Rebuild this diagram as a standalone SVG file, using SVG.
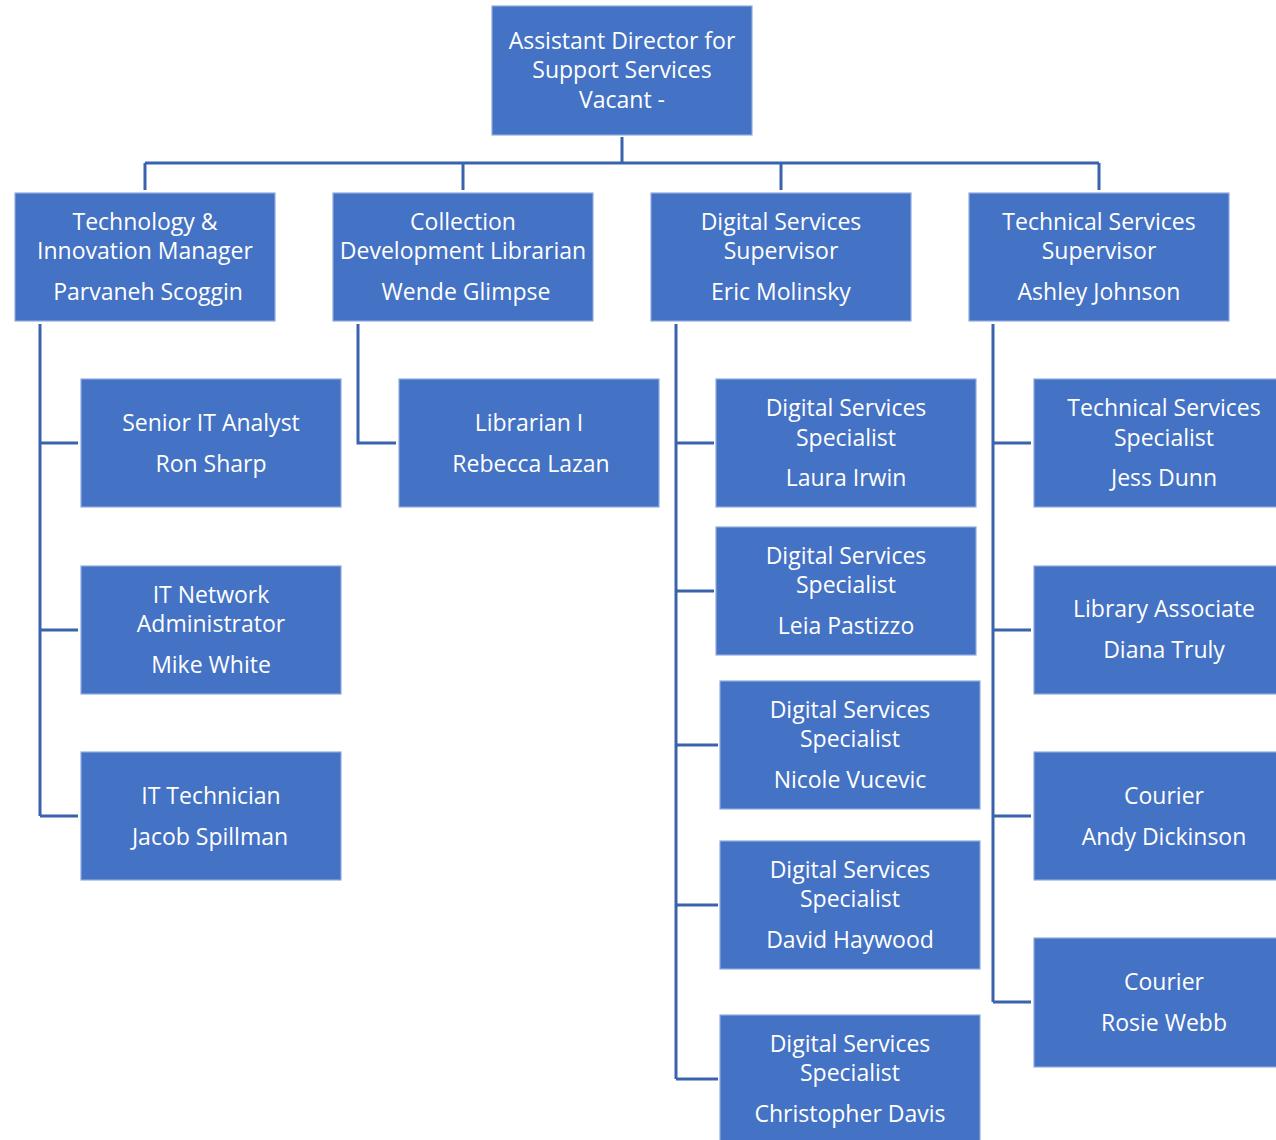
<svg xmlns="http://www.w3.org/2000/svg" width="1276" height="1140" viewBox="0 0 1276 1140">
<style>
.box{fill:#4472C4;stroke:#8FAADC;stroke-width:1.2}
.t{font-family:"Open Sans","Noto Sans",sans-serif;font-size:23px;fill:#FFFFFF;text-anchor:middle}
.c{fill:none;stroke:#3A63AE;stroke-width:3}
</style>
<rect width="1276" height="1140" fill="#FFFFFF"/>
<g id="connectors">
<path class="c" d="M622 137V163M145 163H1099M145 163V190M463 163V190M781 163V190M1099 163V190"/>
<path class="c" d="M40 324V816M40 443H78M40 630H78M40 816H78"/>
<path class="c" d="M358 324V443H396"/>
<path class="c" d="M676 324V1079M676 443H714M676 591H714M676 745H718M676 905H718M676 1079H718"/>
<path class="c" d="M993 324V1002M993 443H1031M993 630H1031M993 816H1031M993 1002H1031"/>
</g>
<g id="n-director"><rect class="box" x="492" y="6" width="260" height="129"/>
<text class="t" x="622" y="49">Assistant Director for</text><text class="t" x="622" y="78">Support Services</text><text class="t" x="622" y="108">Vacant -</text></g>
<g id="n-tech"><rect class="box" x="15" y="193" width="260" height="128"/>
<text class="t" x="145" y="230">Technology &amp;</text><text class="t" x="145" y="259">Innovation Manager</text><text class="t" x="148" y="300">Parvaneh Scoggin</text></g>
<g id="n-coll"><rect class="box" x="333" y="193" width="260" height="128"/>
<text class="t" x="463" y="230">Collection</text><text class="t" x="463" y="259">Development Librarian</text><text class="t" x="466" y="300">Wende Glimpse</text></g>
<g id="n-dig"><rect class="box" x="651" y="193" width="260" height="128"/>
<text class="t" x="781" y="230">Digital Services</text><text class="t" x="781" y="259">Supervisor</text><text class="t" x="781" y="300">Eric Molinsky</text></g>
<g id="n-techsvc"><rect class="box" x="969" y="193" width="260" height="128"/>
<text class="t" x="1099" y="230">Technical Services</text><text class="t" x="1099" y="259">Supervisor</text><text class="t" x="1099" y="300">Ashley Johnson</text></g>
<g id="n-senior"><rect class="box" x="81" y="379" width="260" height="128"/>
<text class="t" x="211" y="431">Senior IT Analyst</text><text class="t" x="211" y="472">Ron Sharp</text></g>
<g id="n-network"><rect class="box" x="81" y="566" width="260" height="128"/>
<text class="t" x="211" y="603">IT Network</text><text class="t" x="211" y="632">Administrator</text><text class="t" x="211" y="673">Mike White</text></g>
<g id="n-ittech"><rect class="box" x="81" y="752" width="260" height="128"/>
<text class="t" x="211" y="804">IT Technician</text><text class="t" x="210" y="845">Jacob Spillman</text></g>
<g id="n-librarian"><rect class="box" x="399" y="379" width="260" height="128"/>
<text class="t" x="529" y="431">Librarian I</text><text class="t" x="531" y="472">Rebecca Lazan</text></g>
<g id="n-laura"><rect class="box" x="716" y="379" width="260" height="128"/>
<text class="t" x="846" y="416">Digital Services</text><text class="t" x="846" y="446">Specialist</text><text class="t" x="846" y="486">Laura Irwin</text></g>
<g id="n-leia"><rect class="box" x="716" y="527" width="260" height="128"/>
<text class="t" x="846" y="564">Digital Services</text><text class="t" x="846" y="593">Specialist</text><text class="t" x="846" y="634">Leia Pastizzo</text></g>
<g id="n-nicole"><rect class="box" x="720" y="681" width="260" height="128"/>
<text class="t" x="850" y="718">Digital Services</text><text class="t" x="850" y="747">Specialist</text><text class="t" x="850" y="788">Nicole Vucevic</text></g>
<g id="n-david"><rect class="box" x="720" y="841" width="260" height="128"/>
<text class="t" x="850" y="878">Digital Services</text><text class="t" x="850" y="907">Specialist</text><text class="t" x="850" y="948">David Haywood</text></g>
<g id="n-chris"><rect class="box" x="720" y="1015" width="260" height="128"/>
<text class="t" x="850" y="1052">Digital Services</text><text class="t" x="850" y="1081">Specialist</text><text class="t" x="850" y="1122">Christopher Davis</text></g>
<g id="n-jess"><rect class="box" x="1034" y="379" width="260" height="128"/>
<text class="t" x="1164" y="416">Technical Services</text><text class="t" x="1164" y="446">Specialist</text><text class="t" x="1164" y="486">Jess Dunn</text></g>
<g id="n-diana"><rect class="box" x="1034" y="566" width="260" height="128"/>
<text class="t" x="1164" y="617">Library Associate</text><text class="t" x="1164" y="658">Diana Truly</text></g>
<g id="n-andy"><rect class="box" x="1034" y="752" width="260" height="128"/>
<text class="t" x="1164" y="804">Courier</text><text class="t" x="1164" y="845">Andy Dickinson</text></g>
<g id="n-rosie"><rect class="box" x="1034" y="938" width="260" height="129"/>
<text class="t" x="1164" y="990">Courier</text><text class="t" x="1164" y="1031">Rosie Webb</text></g>
</svg>
